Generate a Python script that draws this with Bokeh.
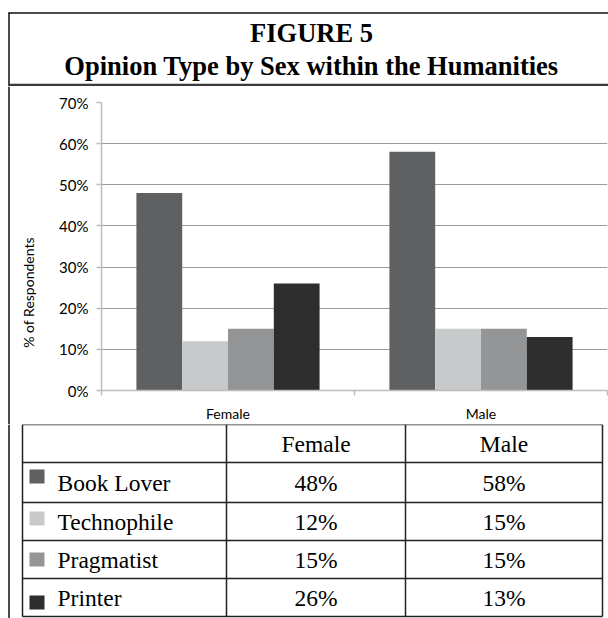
import math
from bokeh.plotting import figure
from bokeh.layouts import column, row
from bokeh.models import (ColumnDataSource, Range1d, LinearAxis,
                          FixedTicker, PrintfTickFormatter)
from bokeh.transform import dodge
from bokeh.core.properties import value
from bokeh.embed import file_html
from bokeh.resources import INLINE

# ---------------- data ----------------
sexes = ["Female", "Male"]
opinion_types = ["Book Lover", "Technophile", "Pragmatist", "Printer"]
book_lover = [48, 58]
technophile = [12, 15]
pragmatist = [15, 15]
printer = [26, 13]
series = [book_lover, technophile, pragmatist, printer]
colors = ["#5f6062", "#c8c9cb", "#949597", "#2d2d2d"]
y_ticks = [0, 10, 20, 30, 40, 50, 60, 70]
title_line1 = "FIGURE 5"
title_line2 = "Opinion Type by Sex within the Humanities"
y_label = "% of Respondents"

# ---------------- styling / layout constants ----------------
W = 608
SANS = "Lato"
SERIF = "Liberation Serif"
BORDER = "#111111"


def blank_fig(w, h, y0, y1):
    f = figure(width=w, height=h, x_range=Range1d(0, w), y_range=Range1d(y1, y0),
               output_backend="svg", toolbar_location=None,
               x_axis_location=None, y_axis_location=None,
               min_border=0, min_border_left=0, min_border_right=0,
               min_border_top=0, min_border_bottom=0, frame_align=False)
    f.outline_line_color = None
    for g in f.grid:
        g.visible = False
    return f


# ---------------- title ----------------
tf = blank_fig(W, 86, 0, 86)
tf.segment(x0=[8, 8.5, 8], y0=[12.5, 12, 84.5], x1=[W, 8.5, W], y1=[12.5, 86, 84.5],
           line_color=[BORDER, BORDER, "#3a3a3a"], line_width=[1.5, 1.5, 2.5])
tf.text(x=[311, 311], y=[32, 65], text=[title_line1, title_line2],
        text_font=value(SERIF), text_font_style="bold", text_font_size="26.5px",
        text_align="center", text_baseline="middle", text_color="#000000")

# ---------------- y label strip ----------------
yl = blank_fig(45, 338, 86, 424)
yl.segment(x0=[8.5], y0=[86], x1=[8.5], y1=[424], line_color=BORDER, line_width=1.5)
yl.text(x=[28], y=[292], text=[y_label], angle=math.pi / 2,
        text_font=value(SANS), text_font_size="14px",
        text_align="center", text_baseline="middle", text_color="#000000")

# ---------------- chart ----------------
ncat = len(sexes)
cat_pos = [k + 0.5 for k in range(ncat)]          # category centres on the x scale
bounds = list(range(ncat + 1))                    # category boundaries

p = figure(width=W - 45, height=338,
           x_range=Range1d(0, ncat), y_range=Range1d(0, 70),
           output_backend="svg", toolbar_location=None,
           x_axis_location=None, y_axis_location="left",
           min_border_left=56, min_border_right=1,
           min_border_top=16, min_border_bottom=34, frame_align=False)
p.outline_line_color = None
for g in p.xgrid:
    g.visible = False
p.ygrid.grid_line_color = "#9a9a9a"
p.ygrid.grid_line_width = 1.2
p.ygrid.ticker = FixedTicker(ticks=y_ticks)

ya = p.yaxis[0]
ya.ticker = FixedTicker(ticks=y_ticks)
ya.formatter = PrintfTickFormatter(format="%d%%")
ya.axis_line_color = "#bdbdbd"
ya.axis_line_width = 1.5
ya.major_tick_line_color = "#bdbdbd"
ya.major_tick_line_width = 1.5
ya.major_tick_in = 0
ya.major_tick_out = 5
ya.minor_tick_line_color = None
ya.major_label_text_font = SANS
ya.major_label_text_font_size = "15px"
ya.major_label_text_color = "#000000"
ya.major_label_standoff = 8

# axis line + tick marks between categories
tick_axis = LinearAxis(ticker=FixedTicker(ticks=bounds),
                       major_label_overrides={b: "" for b in bounds},
                       major_label_text_font_size="0px",
                       major_label_standoff=0,
                       axis_line_color="#bdbdbd", axis_line_width=1.5,
                       major_tick_line_color="#bdbdbd", major_tick_line_width=1.5,
                       major_tick_in=0, major_tick_out=5,
                       minor_tick_line_color=None)
p.add_layout(tick_axis, "below")

# category labels
cat_axis = LinearAxis(ticker=FixedTicker(ticks=cat_pos),
                      major_label_overrides={pos: s for pos, s in zip(cat_pos, sexes)},
                      axis_line_color=None, major_tick_line_color=None,
                      minor_tick_line_color=None,
                      major_label_text_font=SANS,
                      major_label_text_font_size="14px",
                      major_label_text_color="#000000",
                      major_label_standoff=3)
p.add_layout(cat_axis, "below")

bar_w = 0.181
n = len(opinion_types)
for i, (name, vals) in enumerate(zip(opinion_types, series)):
    src = ColumnDataSource(dict(pos=cat_pos, val=vals))
    off = (i - (n - 1) / 2) * bar_w
    p.vbar(x=dodge("pos", off), top="val", width=bar_w,
           source=src, fill_color=colors[i], line_color=None)

# ---------------- table ----------------
tb = blank_fig(W, 194, 424, 618)
row_lines = [424, 462, 502, 540, 578, 616]
col_lines = [22, 226, 405, 602]
tb.segment(x0=[col_lines[0]] * len(row_lines), y0=row_lines,
           x1=[col_lines[-1]] * len(row_lines), y1=row_lines,
           line_color="#222222", line_width=1.5)
tb.segment(x0=col_lines, y0=[row_lines[0]] * len(col_lines),
           x1=col_lines, y1=[row_lines[-1]] * len(col_lines),
           line_color="#222222", line_width=1.5)
tb.segment(x0=[8.5], y0=[424], x1=[8.5], y1=[618], line_color=BORDER, line_width=1.5)

col_centers = [(col_lines[1] + col_lines[2]) / 2, (col_lines[2] + col_lines[3]) / 2]
row_centers = [(row_lines[k] + row_lines[k + 1]) / 2 for k in range(len(row_lines) - 1)]

txt_kw = dict(text_font=value(SERIF), text_font_size="23.5px",
              text_baseline="middle", text_color="#000000")
# header
tb.text(x=col_centers, y=[row_centers[0]] * len(sexes), text=sexes,
        text_align="center", **txt_kw)
# row names
tb.text(x=[57] * n, y=row_centers[1:], text=opinion_types, text_align="left", **txt_kw)
# values
vx, vy, vt = [], [], []
for r, vals in enumerate(series):
    for c, v in enumerate(vals):
        vx.append(col_centers[c])
        vy.append(row_centers[r + 1])
        vt.append(f"{v}%")
tb.text(x=vx, y=vy, text=vt, text_align="center", **txt_kw)
# legend swatches
swatch_offsets = [7, 9, 12, 17]
sw_y = [row_lines[r + 1] + swatch_offsets[r] + 7 for r in range(n)]
tb.rect(x=[36.5] * n, y=sw_y, width=15, height=14, fill_color=colors, line_color=None)

layout = column(tf, row(yl, p, spacing=0), tb, spacing=0)

open("out.html", "w").write(file_html(layout, INLINE))
